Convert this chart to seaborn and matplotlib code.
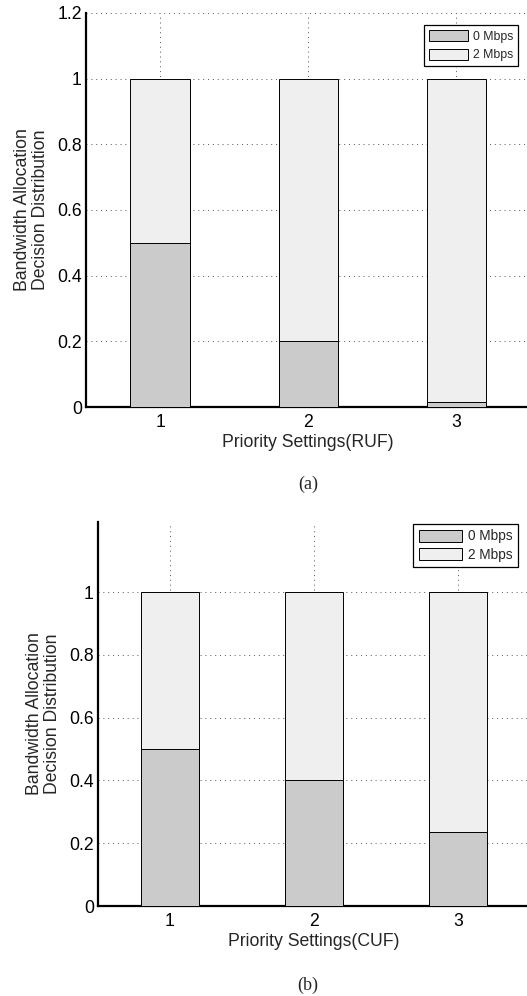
import matplotlib
matplotlib.use("Agg")
import matplotlib.pyplot as plt
from matplotlib.patches import Patch
import seaborn as sns
import pandas as pd

sns.set_theme(style="white")
plt.rcParams['font.family'] = ['Liberation Sans', 'DejaVu Sans']

priorities = ["1", "2", "3"]
ruf_zero = [0.5, 0.2, 0.015]
ruf_two = [0.5, 0.8, 0.985]
cuf_zero = [0.5, 0.4, 0.235]
cuf_two = [0.5, 0.6, 0.765]
legend_labels = ["0 Mbps", "2 Mbps"]
yticks = [0, 0.2, 0.4, 0.6, 0.8, 1.0, 1.2]
ytick_labels = ["0", "0.2", "0.4", "0.6", "0.8", "1", "1.2"]

C_ZERO = "#cbcbcb"
C_TWO = "#efefef"

W, H = 527, 996
fig = plt.figure(figsize=(W / 100, H / 100), dpi=100)


def panel(rect, zero, two, xlabel, ylim, nticks, legend_anchor, legend_fs, lspace,
          caption, cap_y):
    ax = fig.add_axes(rect)
    df = pd.DataFrame({"p": priorities, "zero": zero, "total": [a + b for a, b in zip(zero, two)]})
    sns.barplot(data=df, x="p", y="total", color=C_TWO, saturation=1, width=0.4,
                edgecolor="black", linewidth=0.7, ax=ax, zorder=3)
    sns.barplot(data=df, x="p", y="zero", color=C_ZERO, saturation=1, width=0.4,
                edgecolor="black", linewidth=0.7, ax=ax, zorder=4)
    ax.set_xlim(-0.5, 2.5)
    ax.set_ylim(*ylim)
    ax.set_yticks(yticks[:nticks])
    ax.set_yticklabels(ytick_labels[:nticks])
    ax.set_xlabel(xlabel, fontsize=12.7, labelpad=2)
    ax.set_ylabel("Bandwidth Allocation\nDecision Distribution", fontsize=12.7, labelpad=6,
                  linespacing=1.1)
    ax.tick_params(axis="both", labelsize=12.7, direction="in", length=4, width=0.8,
                   color="black", labelcolor="black")
    ax.tick_params(axis="y", pad=3)
    ax.tick_params(axis="x", pad=5)
    for s in ["top", "right"]:
        ax.spines[s].set_visible(False)
    for s in ["left", "bottom"]:
        ax.spines[s].set_color("black")
        ax.spines[s].set_linewidth(1.6)
    ax.grid(True, axis="both", linestyle=(0, (1, 4)), color="#555555", linewidth=0.7, zorder=0)
    ax.set_axisbelow(True)
    handles = [Patch(facecolor=C_ZERO, edgecolor="black", linewidth=0.7),
               Patch(facecolor=C_TWO, edgecolor="black", linewidth=0.7)]
    leg = fig.legend(handles, legend_labels, loc="upper right", bbox_to_anchor=legend_anchor,
                     fontsize=legend_fs, frameon=True, fancybox=False, handlelength=3.2,
                     handleheight=1.0, handletextpad=0.4, borderpad=0.4, labelspacing=lspace,
                     borderaxespad=0)
    leg.get_frame().set_edgecolor("black")
    leg.get_frame().set_linewidth(0.9)
    leg.get_frame().set_alpha(1)
    fig.text(0.5845, cap_y, caption, ha="center", va="center", fontsize=13,
             family=["Liberation Serif", "DejaVu Serif"])
    return ax


# top panel: axes spans x 86..530.5 px, y 13..407 px
panel([86 / W, (H - 407) / H, (530.5 - 86) / W, (407 - 13) / H],
      ruf_zero, ruf_two, "Priority Settings(RUF)", (0, 1.2), 7,
      (518 / W, (H - 25) / H), 8.8, 0.5, "(a)", (H - 484) / H)

# bottom panel: axes spans x 98..530 px, y 522..906 px
panel([98 / W, (H - 906) / H, (530 - 98) / W, (906 - 522) / H],
      cuf_zero, cuf_two, "Priority Settings(CUF)", (0, 1.223), 6,
      (518 / W, (H - 524) / H), 9.8, 0.3, "(b)", (H - 985) / H)

fig.savefig("out.png", dpi=100)
